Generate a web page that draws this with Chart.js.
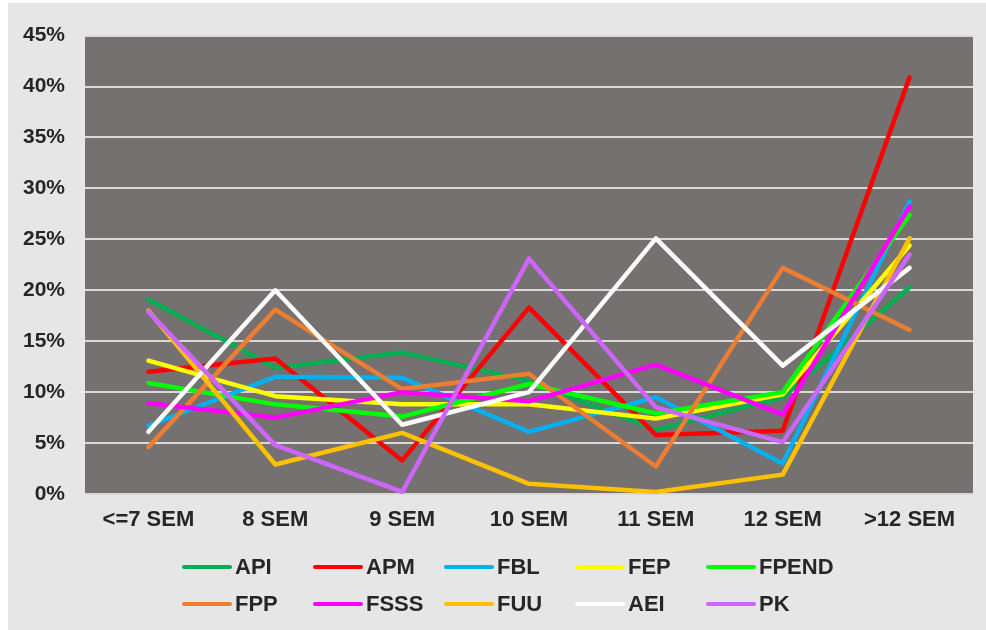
<!DOCTYPE html>
<html lang="en">
<head>
  <meta charset="UTF-8" />
  <title>Semesters</title>
  <script src="https://cdn.jsdelivr.net/npm/chart.js"></script>
  <style>
    html, body { margin: 0; padding: 0; background: #ffffff; }
    body { width: 986px; height: 630px; position: relative; overflow: hidden; font-family: "Liberation Sans", Arial, sans-serif; }
    .frame { position: absolute; left: 8px; top: 3px; width: 978px; height: 627px; background: #e7e6e6; }
    #chart { position: absolute; left: 0; top: 0; }
    .legend {
      position: absolute; left: 174px; top: 545px;
      display: grid; grid-template-columns: repeat(5, 131px); grid-auto-rows: 37.5px;
      align-items: center;
    }
    .legend-item { display: flex; align-items: center; font-weight: bold; font-size: 22px; color: #262626; }
    .legend-item .swatch { width: 50px; height: 4px; border-radius: 2px; margin-right: 3px; }
  </style>
</head>
<body>
  <div class="frame">
    <canvas id="chart" width="978" height="627"></canvas>
    <div class="legend" id="legend"></div>
  </div>

  <script>
    const categories = ['<=7 SEM', '8 SEM', '9 SEM', '10 SEM', '11 SEM', '12 SEM', '>12 SEM'];

    // values in percent
    const API   = [19.1, 12.4, 13.9, 11.1, 6.3, 9.5, 20.3];
    const APM   = [12.0, 13.3, 3.3, 18.3, 5.8, 6.2, 40.9];
    const FBL   = [6.7, 11.5, 11.4, 6.1, 9.5, 3.0, 28.7];
    const FEP   = [13.1, 9.6, 8.8, 8.8, 7.4, 9.8, 24.4];
    const FPEND = [10.9, 8.8, 7.6, 10.8, 7.9, 10.0, 27.4];
    const FPP   = [4.6, 18.1, 10.3, 11.8, 2.7, 22.2, 16.1];
    const FSSS  = [8.9, 7.5, 10.0, 9.1, 12.7, 7.8, 28.2];
    const FUU   = [18.0, 2.9, 6.0, 1.0, 0.2, 1.9, 25.1];
    const AEI   = [6.1, 20.0, 6.8, 10.0, 25.1, 12.6, 22.2];
    const PK    = [17.9, 4.8, 0.2, 23.1, 8.5, 5.1, 23.5];

    const seriesNames = ['API', 'APM', 'FBL', 'FEP', 'FPEND', 'FPP', 'FSSS', 'FUU', 'AEI', 'PK'];
    const seriesValues = [API, APM, FBL, FEP, FPEND, FPP, FSSS, FUU, AEI, PK];
    const seriesColors = ['#00b050', '#ff0000', '#00b0f0', '#ffff00', '#00ff00', '#ed7d31', '#ff00ff', '#ffc000', '#ffffff', '#cc66ff'];

    const yTicks = [0, 5, 10, 15, 20, 25, 30, 35, 40, 45];

    const plotBg = {
      id: 'plotBg',
      beforeDraw(chart) {
        const { ctx, chartArea: a } = chart;
        ctx.save();
        ctx.fillStyle = '#767171';
        ctx.fillRect(a.left, a.top, a.right - a.left, a.bottom - a.top);
        ctx.restore();
      }
    };

    // later series drawn on top (Chart.js draws lower `order` last)
    const datasets = seriesNames.map((name, i) => ({
      label: name,
      data: seriesValues[i],
      borderColor: seriesColors[i],
      backgroundColor: seriesColors[i],
      borderWidth: 4.5,
      borderJoinStyle: 'round',
      borderCapStyle: 'round',
      pointRadius: 0,
      tension: 0,
      fill: false,
      order: seriesNames.length - i
    }));

    new Chart(document.getElementById('chart'), {
      type: 'line',
      data: { labels: categories, datasets },
      options: {
        responsive: false,
        animation: false,
        layout: { padding: { top: 29, right: 13, bottom: 0, left: 0 } },
        plugins: { legend: { display: false }, tooltip: { enabled: false } },
        scales: {
          x: {
            offset: true,
            grid: { display: false, drawTicks: false },
            border: { display: false },
            ticks: {
              padding: 13,
              color: '#262626',
              font: { family: 'Liberation Sans', size: 22, weight: 'bold' },
              maxRotation: 0,
              autoSkip: false
            },
            afterFit(scale) { scale.height = 136; }
          },
          y: {
            min: 0,
            max: 45,
            afterBuildTicks(scale) { scale.ticks = yTicks.map(v => ({ value: v })); },
            grid: { color: '#d9d9d9', lineWidth: 2, drawTicks: false },
            border: { display: false },
            ticks: {
              padding: 20,
              color: '#262626',
              font: { family: 'Liberation Sans', size: 21, weight: 'bold' },
              callback: v => v + '%'
            },
            afterFit(scale) { scale.width = 77; }
          }
        }
      },
      plugins: [plotBg]
    });

    // legend: two rows of five, same order as the series
    document.getElementById('legend').innerHTML = seriesNames.map((name, i) => `
      <div class="legend-item"><span class="swatch" style="background:${seriesColors[i]}"></span>${name}</div>
    `).join('');
  </script>
</body>
</html>
